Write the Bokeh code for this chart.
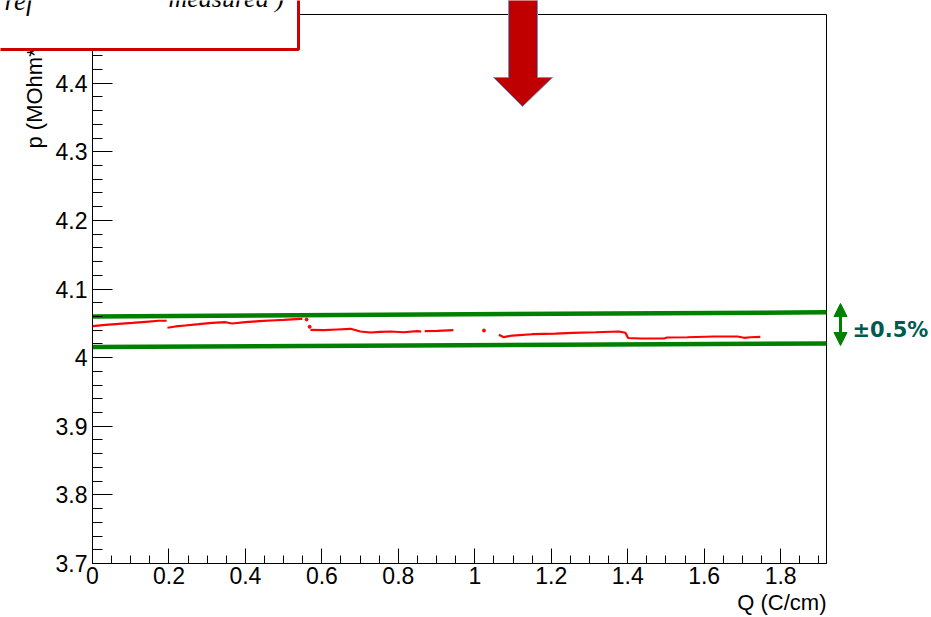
import numpy as np
from bokeh.plotting import figure
from bokeh.models import (Range1d, FixedTicker, CustomJSTickFormatter, Label,
                          BoxAnnotation, PolyAnnotation, Arrow, NormalHead)
from bokeh.embed import file_html
from bokeh.resources import INLINE

# ---------------- data ----------------
q_seg1 = [0.001, 0.034, 0.069, 0.104, 0.139, 0.173, 0.194]
rho_seg1 = [4.0458, 4.0478, 4.0493, 4.0507, 4.0522, 4.0537, 4.0537]

q_seg2 = [0.196, 0.217, 0.243, 0.278, 0.313, 0.348, 0.365, 0.400, 0.435, 0.479, 0.500, 0.544, 0.549]
rho_seg2 = [4.0435, 4.0454, 4.0468, 4.0487, 4.0507, 4.0516, 4.0497, 4.0516, 4.0531, 4.0545, 4.0551, 4.0566, 4.0566]

q_seg3 = [0.570, 0.605, 0.640, 0.675, 0.701, 0.727, 0.753, 0.780, 0.814, 0.849, 0.860]
rho_seg3 = [4.0405, 4.0400, 4.0410, 4.0420, 4.0381, 4.0366, 4.0376, 4.0381, 4.0370, 4.0385, 4.0381]

q_seg4 = [0.869, 0.902, 0.944]
rho_seg4 = [4.0385, 4.0391, 4.0400]

q_seg5 = [1.063, 1.076, 1.098, 1.150, 1.211, 1.255, 1.316, 1.377, 1.394, 1.401,
          1.434, 1.495, 1.503, 1.556, 1.625, 1.687, 1.704, 1.721, 1.747]
rho_seg5 = [4.0333, 4.0298, 4.0322, 4.0341, 4.0351, 4.0362, 4.0370, 4.0381, 4.0362, 4.0286,
            4.0279, 4.0279, 4.0293, 4.0297, 4.0308, 4.0308, 4.0289, 4.0297, 4.0303]

q_single = [0.560, 0.568, 1.024]
rho_single = [4.0556, 4.0449, 4.0395]

band_q = [0.0, 1.92]
band_upper = [4.060, 4.066]
band_lower = [4.0155, 4.0205]

x_ticks = [0.0, 0.2, 0.4, 0.6, 0.8, 1.0, 1.2, 1.4, 1.6, 1.8]
y_ticks = [3.7, 3.8, 3.9, 4.0, 4.1, 4.2, 4.3, 4.4]

x_title = "Q (C/cm)"
y_title = "p (MOhm*cm)"
band_text = "±0.5%"
box_text_1 = "ref"
box_text_2 = "measured )"

# ---------------- layout ----------------
W, H = 931, 617
FL, FR, FT, FB = 92, 826, 14, 563          # ROOT frame in pixels
X0, X1, Y0, Y1 = 0.0, 1.92, 3.7, 4.5       # axis ranges
SHIFT = 8                                  # alphabetic-baseline correction (px)


def px2x(px):
    return X0 + (px - FL) / (FR - FL) * (X1 - X0)


def px2y(py):
    return Y1 - (py - FT) / (FB - FT) * (Y1 - Y0)


# the Bokeh frame covers the whole canvas; ROOT-style axes sit at fixed locations
p = figure(width=W, height=H, output_backend="svg", toolbar_location=None,
           x_range=Range1d(px2x(0), px2x(W)), y_range=Range1d(px2y(H), px2y(0)),
           min_border=0)
p.title.visible = False
p.background_fill_color = "white"
p.border_fill_color = "white"
p.outline_line_color = None
p.grid.visible = False

fmt = CustomJSTickFormatter(code="return Number(tick.toFixed(3)).toString();")

xa = p.xaxis[0]
xa.fixed_location = Y0
xa.bounds = (X0, X1)
xa.ticker = FixedTicker(ticks=x_ticks,
                        minor_ticks=list(np.round(np.arange(0.0, 1.9001, 0.05), 3)))
xa.formatter = fmt
xa.major_tick_in = 15
xa.major_tick_out = 0
xa.minor_tick_in = 8
xa.minor_tick_out = 0
xa.major_label_standoff = 3
xa.major_label_text_font = "Liberation Sans"
xa.major_label_text_font_size = "23px"
xa.major_label_text_color = "black"
xa.axis_line_color = "black"
xa.major_tick_line_color = "black"
xa.minor_tick_line_color = "black"

ya = p.yaxis[0]
ya.fixed_location = X0
ya.bounds = (Y0, Y1)
ya.ticker = FixedTicker(ticks=y_ticks,
                        minor_ticks=list(np.round(np.arange(3.7, 4.5001, 0.02), 3)))
ya.formatter = fmt
ya.major_tick_in = 20
ya.major_tick_out = 0
ya.minor_tick_in = 10
ya.minor_tick_out = 0
ya.major_label_standoff = 5
ya.major_label_text_font = "Liberation Sans"
ya.major_label_text_font_size = "23px"
ya.major_label_text_color = "black"
ya.axis_line_color = "black"
ya.major_tick_line_color = "black"
ya.minor_tick_line_color = "black"

# ROOT frame (top / right edges)
p.quad(left=[X0], right=[X1], bottom=[Y0], top=[Y1],
       fill_color=None, line_color="black", line_width=1)

GREEN = "#008000"

# tolerance band
p.line(band_q, band_upper, line_color=GREEN, line_width=4.5)
p.line(band_q, band_lower, line_color=GREEN, line_width=4.5)

# measured data
p.multi_line(xs=[q_seg1, q_seg2, q_seg3, q_seg4, q_seg5],
             ys=[rho_seg1, rho_seg2, rho_seg3, rho_seg4, rho_seg5],
             line_color="#ff0000", line_width=2.2)
p.scatter(q_single, rho_single, size=3, fill_color="#ff0000", line_color="#ff0000")

# axis titles (ROOT style, right aligned)
p.add_layout(Label(x=px2x(42 - SHIFT), y=px2y(148), text=y_title, angle=np.pi / 2,
                   text_align="left", text_baseline="alphabetic",
                   text_font="Liberation Sans", text_font_size="22px", text_color="black"))
p.add_layout(Label(x=px2x(826), y=px2y(610 - SHIFT), text=x_title,
                   text_align="right", text_baseline="alphabetic",
                   text_font="Liberation Sans", text_font_size="22px", text_color="black"))

# legend-like box at top left (its upper part lies outside the picture)
p.add_layout(BoxAnnotation(left=px2x(-10), right=px2x(298), top=px2y(-10), bottom=px2y(49),
                           fill_color="white", fill_alpha=1.0,
                           line_color="#cc0000", line_width=3, line_alpha=1.0))
p.add_layout(Label(x=px2x(4), y=px2y(8 - SHIFT), text=box_text_1,
                   text_font="Liberation Serif", text_font_style="italic",
                   text_font_size="27px", text_color="black", text_baseline="alphabetic"))
p.add_layout(Label(x=px2x(168), y=px2y(6 - SHIFT), text=box_text_2,
                   text_font="Liberation Serif", text_font_style="italic",
                   text_font_size="26px", text_color="black", text_baseline="alphabetic"))

# big red arrow
arrow_px = [(508, -5), (537, -5), (537, 77), (552, 77), (522, 106), (493, 77), (508, 77)]
p.add_layout(PolyAnnotation(xs=[px2x(a) for a, b in arrow_px],
                            ys=[px2y(b) for a, b in arrow_px],
                            fill_color="#c00000", fill_alpha=1.0,
                            line_color="#5b9bd5", line_width=1, line_alpha=1.0))

# green double arrow + text
head_kw = dict(size=13, fill_color=GREEN, line_color=GREEN)
p.add_layout(Arrow(start=NormalHead(**head_kw), end=NormalHead(**head_kw),
                   x_start=px2x(840), y_start=px2y(345),
                   x_end=px2x(840), y_end=px2y(303),
                   line_color=GREEN, line_width=3))
p.add_layout(Label(x=px2x(852), y=px2y(329), text=band_text,
                   text_align="left", text_baseline="middle",
                   text_font="DejaVu Sans", text_font_style="bold",
                   text_font_size="21px", text_color="#005a4e"))

open("out.html", "w").write(file_html(p, INLINE))
